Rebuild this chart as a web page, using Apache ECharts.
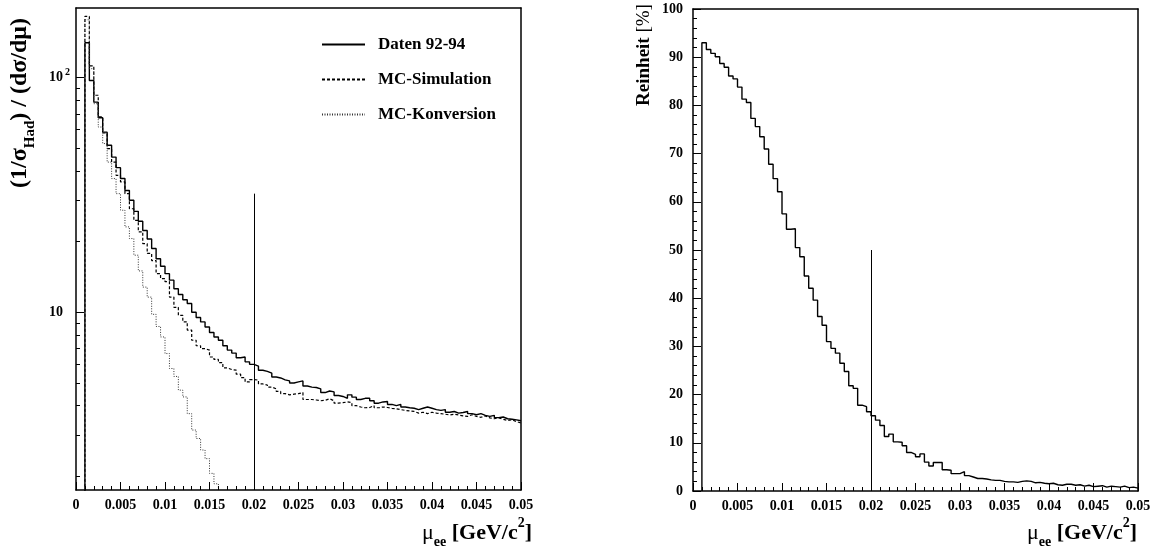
<!DOCTYPE html>
<html>
<head>
<meta charset="utf-8">
<script src="https://cdn.jsdelivr.net/npm/echarts@6/dist/echarts.min.js"></script>
<style>
html,body{margin:0;padding:0;background:#fff;}
#chart{width:1157px;height:548px;}
</style>
</head>
<body>
<div id="chart"></div>
<script>
// ---- data ----
const binStart = 0.001;
const binWidth = 0.0005;
const xTickLabels = [0, 0.005, 0.01, 0.015, 0.02, 0.025, 0.03, 0.035, 0.04, 0.045, 0.05];
const logMinorTicks = [2,3,4,5,6,7,8,9,20,30,40,50,60,70,80,90];
const logMajorTicks = [10, 100];
const purityTicks = [0,10,20,30,40,50,60,70,80,90,100];
const cutValue = 0.02;
const cutTopLeft = 32;
const cutTopRight = 50;

const daten = [140.6,97,78.5,67.4,58.5,51.4,45.8,41.3,37.1,33.0,30.0,26.9,24.4,22.3,20.5,18.7,16.9,15.7,14.6,13.7,
12.6,11.9,11.3,10.9,10.0,9.5,9.1,8.65,8.2,7.85,7.6,7.2,6.9,6.7,6.4,6.45,6.15,6.0,5.9,5.66,
5.6,5.5,5.3,5.25,5.15,5.1,5.0,5.05,5.1,4.85,4.8,4.78,4.72,4.55,4.62,4.58,4.42,4.38,4.3,4.45,
4.35,4.25,4.3,4.3,4.2,4.1,4.15,4.17,4.05,4.0,4.05,3.95,3.92,3.9,3.85,3.9,3.95,3.9,3.85,3.82,
3.85,3.75,3.78,3.72,3.74,3.78,3.7,3.66,3.7,3.64,3.6,3.64,3.56,3.58,3.52,3.5,3.48,3.45];

const mcSimulation = [182,112,84,68,58,49.8,43.6,38.3,35.9,32.0,27.6,24.6,22.0,19.6,17.8,16.6,14.6,13.9,13.5,11.6,
10.5,9.7,9.1,8.4,7.6,7.2,7.0,6.9,6.45,6.3,6.1,5.8,5.7,5.67,5.45,5.27,5.05,5.17,5.14,4.95,
4.9,4.8,4.72,4.6,4.5,4.45,4.48,4.5,4.55,4.25,4.25,4.23,4.2,4.22,4.28,4.2,4.1,4.12,4.15,4.12,
4.0,3.95,3.92,3.93,4.0,3.92,3.95,3.93,3.9,3.88,3.85,3.82,3.8,3.78,3.72,3.75,3.7,3.75,3.72,3.7,
3.68,3.65,3.68,3.65,3.62,3.6,3.66,3.6,3.57,3.62,3.55,3.52,3.55,3.5,3.46,3.48,3.42,3.38];

const mcKonversion = [176,109,77.3,61.5,52.3,43.6,37.1,32.0,27.2,23.1,20.6,17.5,15.0,12.8,11.6,9.8,8.7,7.85,6.67,5.76,
5.33,4.66,4.36,3.70,3.15,2.90,2.59,2.38,2.06,1.86,1.6];

const reinheit = [93.0,91.6,90.8,90.1,88.7,87.9,86.1,85.5,83.8,81.3,80.6,77.3,75.6,73.5,70.95,67.8,64.8,62.1,57.5,54.3,
54.4,50.5,48.6,44.6,42.05,39.6,36.2,34.4,31.0,29.6,28.6,26.5,24.8,21.85,21.3,17.8,17.5,16.45,15.6,14.7,
13.6,11.3,11.8,10.2,10.1,9.4,8.0,7.6,7.1,7.7,6.0,5.2,5.9,5.9,4.4,4.3,3.6,3.6,4.0,3.2,
2.9,2.6,2.6,2.5,2.3,2.2,2.2,2.0,1.9,1.9,1.8,2.0,2.1,2.0,1.7,1.8,1.6,1.5,1.6,1.3,
1.2,1.4,1.4,1.2,1.3,1.0,1.2,0.9,1.0,1.1,0.8,1.0,0.9,0.8,1.0,0.7,0.8,0.6];

// ---- helpers ----
function steps(vals, low) {
  const pts = [[binStart, low]];
  vals.forEach((v, i) => {
    const a = binStart + i * binWidth;
    pts.push([a, v], [a + binWidth, v]);
  });
  return pts;
}

const FONT = 'Liberation Serif';
const black = '#000';
const logMin = 1.75, logMax = 197.6;
const xMin = 0, xMax = 0.05, pMin = 0, pMax = 100;
const GRID_W = 445, GRID_H = 482;
const MAJOR = 8, MINOR = 4;

function subdivide(majors) {
  const minors = [];
  for (let i = 0; i < majors.length - 1; i++) {
    const step = (majors[i + 1] - majors[i]) / 5;
    for (let k = 1; k < 5; k++) minors.push(majors[i] + k * step);
  }
  return minors;
}

// tick lengths converted from pixels to data units; the axes place them
const xPerPx = (xMax - xMin) / GRID_W;
const logDecPerPx = Math.log10(logMax / logMin) / GRID_H;
const pPerPx = (pMax - pMin) / GRID_H;
const xMinor = subdivide(xTickLabels);
const pMinor = subdivide(purityTicks);

function seg(a, b) { return [{coord: a}, {coord: b}]; }
const leftMarks = [seg([cutValue, logMin], [cutValue, cutTopLeft])]
  .concat(xTickLabels.map(v => seg([v, logMin], [v, logMin * Math.pow(10, MAJOR * logDecPerPx)])))
  .concat(xMinor.map(v => seg([v, logMin], [v, logMin * Math.pow(10, MINOR * logDecPerPx)])))
  .concat(logMajorTicks.map(v => seg([xMin, v], [xMin + MAJOR * xPerPx, v])))
  .concat(logMinorTicks.map(v => seg([xMin, v], [xMin + MINOR * xPerPx, v])));
const rightMarks = [seg([cutValue, pMin], [cutValue, cutTopRight])]
  .concat(xTickLabels.map(v => seg([v, pMin], [v, pMin + MAJOR * pPerPx])))
  .concat(xMinor.map(v => seg([v, pMin], [v, pMin + MINOR * pPerPx])))
  .concat(purityTicks.map(v => seg([xMin, v], [xMin + MAJOR * xPerPx, v])))
  .concat(pMinor.map(v => seg([xMin, v], [xMin + MINOR * xPerPx, v])));

const lineOn = {show: true, onZero: false, lineStyle: {color: black, width: 1.5}};
const frameOnly = {
  axisLine: lineOn, axisTick: {show: false}, axisLabel: {show: false},
  splitLine: {show: false}, minorTick: {show: false}
};

function xAxisCfg(gi) {
  return {
    type: 'value', gridIndex: gi, min: xMin, max: xMax, interval: 0.005, position: 'bottom',
    axisLine: lineOn, splitLine: {show: false}, axisTick: {show: false}, minorTick: {show: false},
    axisLabel: {show: true, margin: 8, color: black, fontFamily: FONT, fontWeight: 'bold', fontSize: 14,
      formatter: v => String(+v.toFixed(3))}
  };
}
function xTopCfg(gi) {
  return Object.assign({type: 'value', gridIndex: gi, min: xMin, max: xMax, position: 'top'}, frameOnly);
}

function titleRich(sz) {
  const sub = Math.round(sz * 0.62);
  const lh = Math.round(sz * 1.5);
  return {
    m: {fontFamily: FONT, fontWeight: 'bold', fontSize: sz, lineHeight: lh, verticalAlign: 'middle', fill: black},
    r: {fontFamily: FONT, fontWeight: 'normal', fontSize: sz, lineHeight: lh, verticalAlign: 'middle', fill: black},
    s: {fontFamily: FONT, fontWeight: 'bold', fontSize: sub, lineHeight: lh, verticalAlign: 'bottom', fill: black},
    p: {fontFamily: FONT, fontWeight: 'bold', fontSize: sub, lineHeight: lh, verticalAlign: 'top', fill: black}
  };
}

const markStyle = {silent: true, symbol: 'none', label: {show: false}, animation: false,
  lineStyle: {color: black, width: 1, type: 'solid', opacity: 1}, emphasis: {disabled: true}};

const chart = echarts.init(document.getElementById('chart'));
chart.setOption({
  animation: false,
  backgroundColor: '#fff',
  grid: [
    {left: 76, top: 8, width: GRID_W, height: GRID_H, show: false},
    {left: 693, top: 9, width: GRID_W, height: GRID_H, show: false}
  ],
  xAxis: [xAxisCfg(0), xAxisCfg(1), xTopCfg(0), xTopCfg(1)],
  yAxis: [
    {type: 'log', gridIndex: 0, min: logMin, max: logMax, position: 'left', offset: 0,
      axisLine: lineOn, splitLine: {show: false}, minorTick: {show: false}, axisTick: {show: false},
      axisLabel: {show: true, customValues: logMajorTicks, margin: 4, color: black,
        formatter: v => v >= 100 ? '{b|10}{s|2}' : '{b|10}{s| }',
        rich: {
          b: {fontFamily: FONT, fontWeight: 'bold', fontSize: 14, lineHeight: 20, verticalAlign: 'middle', color: black},
          s: {fontFamily: FONT, fontWeight: 'bold', fontSize: 10, lineHeight: 20, verticalAlign: 'top', color: black, width: 9, align: 'center'}
        }}},
    {type: 'value', gridIndex: 1, min: pMin, max: pMax, interval: 10, position: 'left',
      axisLine: lineOn, splitLine: {show: false}, axisTick: {show: false}, minorTick: {show: false},
      axisLabel: {show: true, margin: 10, color: black, fontFamily: FONT, fontWeight: 'bold', fontSize: 14}},
    Object.assign({type: 'log', gridIndex: 0, min: logMin, max: logMax, position: 'right'}, frameOnly),
    Object.assign({type: 'value', gridIndex: 1, min: pMin, max: pMax, position: 'right'}, frameOnly)
  ],
  legend: {
    left: 316, top: 31, orient: 'vertical', itemWidth: 43, itemHeight: 14, itemGap: 18,
    data: ['Daten 92-94', 'MC-Simulation', 'MC-Konversion'],
    itemStyle: {opacity: 0},
    textStyle: {fontFamily: FONT, fontWeight: 'bold', fontSize: 17, color: black, padding: [0, 0, 0, 8]}
  },
  series: [
    {name: 'Daten 92-94', type: 'line', xAxisIndex: 0, yAxisIndex: 0, symbol: 'none', clip: true,
      data: steps(daten, 1), color: black,
      lineStyle: {color: black, width: 1.4, type: 'solid'},
      markLine: Object.assign({data: leftMarks}, markStyle)},
    {name: 'MC-Simulation', type: 'line', xAxisIndex: 0, yAxisIndex: 0, symbol: 'none', clip: true,
      data: steps(mcSimulation, 1), color: black,
      lineStyle: {color: black, width: 1.2, type: [3, 2]}},
    {name: 'MC-Konversion', type: 'line', xAxisIndex: 0, yAxisIndex: 0, symbol: 'none', clip: true,
      data: steps(mcKonversion, 1), color: '#333',
      lineStyle: {color: '#333', width: 1, type: [1, 1.5]}},
    {name: 'Reinheit', type: 'line', xAxisIndex: 1, yAxisIndex: 1, symbol: 'none', clip: true,
      data: steps(reinheit, 0), color: black,
      lineStyle: {color: black, width: 1.4, type: 'solid'},
      markLine: Object.assign({data: rightMarks}, markStyle)}
  ],
  graphic: [
    {type: 'text', x: 20, y: 103, rotation: Math.PI / 2,
      style: {text: '{m|(1/σ}{s|Had}{m|) / (dσ/dμ)}', rich: titleRich(24), align: 'center', verticalAlign: 'middle'}},
    {type: 'text', x: 644, y: 55, rotation: Math.PI / 2,
      style: {text: '{m|Reinheit }{r|[%]}', rich: titleRich(19), align: 'center', verticalAlign: 'middle'}},
    {type: 'text', x: 532, y: 533,
      style: {text: '{r|μ}{s|ee}{m| [GeV/c}{p|2}{m|]}', rich: titleRich(22), align: 'right', verticalAlign: 'middle'}},
    {type: 'text', x: 1137, y: 533,
      style: {text: '{r|μ}{s|ee}{m| [GeV/c}{p|2}{m|]}', rich: titleRich(22), align: 'right', verticalAlign: 'middle'}}
  ]
});
</script>
</body>
</html>
